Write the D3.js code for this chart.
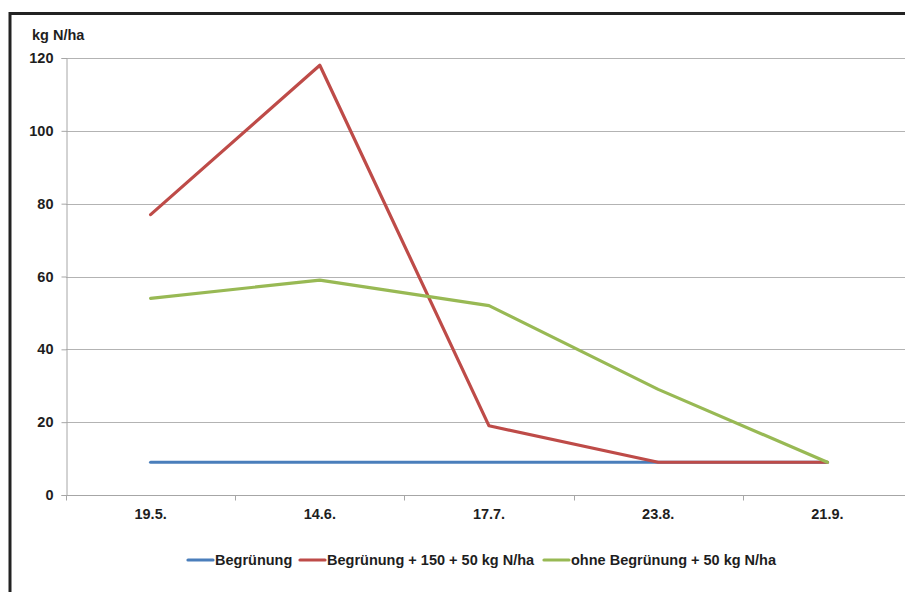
<!DOCTYPE html>
<html>
<head>
<meta charset="utf-8">
<script src="https://cdn.jsdelivr.net/npm/d3@7"></script>
<style>
  html, body { margin: 0; padding: 0; background: #fff; overflow: hidden; }
  svg { display: block; font-family: "Liberation Sans", Arial, sans-serif; font-weight: bold; }
</style>
</head>
<body>
<svg id="chart" width="905" height="592"></svg>
<script>
// Sampling dates
const dates = ["19.5.", "14.6.", "17.7.", "23.8.", "21.9."];
// Nitrogen values (kg N/ha) per treatment
const begruenung = [9, 9, 9, 9, 9];
const begruenung150 = [77, 118, 19, 9, 9];
const ohneBegruenung = [54, 59, 52, 29, 9];
const yTicks = [0, 20, 40, 60, 80, 100, 120];
const seriesNames = ["Begrünung", "Begrünung + 150 + 50 kg N/ha", "ohne Begrünung + 50 kg N/ha"];
const seriesColors = ["#4A7EBB", "#BE4B48", "#98B954"];

const series = [begruenung, begruenung150, ohneBegruenung].map((values, i) => ({
  name: seriesNames[i], color: seriesColors[i], values
}));

const FONT = 14.5;
const TEXT = "#1e1e1e";
const svg = d3.select("#chart");

// Outer frame (top and left edges)
svg.append("line").attr("x1", 10).attr("x2", 905).attr("y1", 13.5).attr("y2", 13.5)
  .attr("stroke", "#222").attr("stroke-width", 3);
svg.append("line").attr("x1", 10).attr("x2", 10).attr("y1", 12).attr("y2", 592)
  .attr("stroke", "#222").attr("stroke-width", 3);

const plot = { left: 66, right: 912, top: 58, bottom: 495 };

const x = d3.scaleBand().domain(dates).range([plot.left, plot.right]).padding(0);
const y = d3.scaleLinear().domain([0, 120]).range([plot.bottom, plot.top]);

// Horizontal gridlines
svg.append("g").selectAll("line").data(yTicks.filter(d => d > 0)).join("line")
  .attr("x1", plot.left).attr("x2", plot.right)
  .attr("y1", d => Math.round(y(d)) + 0.5).attr("y2", d => Math.round(y(d)) + 0.5)
  .attr("stroke", "#b3b3b3").attr("stroke-width", 1);

// Y axis
const yAxis = svg.append("g").attr("transform", `translate(${plot.left + 0.5},0)`)
  .call(d3.axisLeft(y).tickValues(yTicks).tickSize(5).tickPadding(8));
yAxis.select(".domain").attr("stroke", "#a6a6a6");
yAxis.selectAll(".tick line").attr("stroke", "#a6a6a6");
yAxis.selectAll(".tick text").attr("fill", TEXT).attr("font-size", FONT)
  .attr("font-family", "Liberation Sans, Arial, sans-serif").attr("font-weight", "bold");

// X axis with ticks between categories
const xAxisG = svg.append("g").attr("transform", `translate(0,${Math.round(y(0)) + 0.5})`);
xAxisG.append("line").attr("x1", plot.left).attr("x2", plot.right)
  .attr("stroke", "#a6a6a6");
const boundaries = dates.map(d => x(d)).concat([plot.right]);
xAxisG.selectAll("line.tick").data(boundaries).join("line").attr("class", "tick")
  .attr("x1", d => Math.round(d) + 0.5).attr("x2", d => Math.round(d) + 0.5)
  .attr("y1", 0).attr("y2", 5).attr("stroke", "#a6a6a6");
xAxisG.selectAll("text").data(dates).join("text")
  .attr("x", d => x(d) + x.bandwidth() / 2).attr("y", 23)
  .attr("text-anchor", "middle").attr("fill", TEXT).attr("font-size", FONT)
  .text(d => d);

// Axis unit label
svg.append("text").attr("x", 32).attr("y", 40).attr("font-size", FONT).attr("fill", TEXT)
  .text("kg N/ha");

// Series lines
const line = d3.line()
  .x((d, i) => x(dates[i]) + x.bandwidth() / 2)
  .y(d => y(d));

svg.append("g").selectAll("path").data(series).join("path")
  .attr("d", s => line(s.values))
  .attr("fill", "none").attr("stroke", s => s.color)
  .attr("stroke-width", 3.2).attr("stroke-linejoin", "round").attr("stroke-linecap", "round");

// Legend
const legendY = 560;
const legendX = [188, 300, 544];
const legend = svg.append("g").selectAll("g").data(series).join("g")
  .attr("transform", (d, i) => `translate(${legendX[i]},${legendY})`);
legend.append("line").attr("x1", 0).attr("x2", 25).attr("y1", 0).attr("y2", 0)
  .attr("stroke", d => d.color).attr("stroke-width", 3.2).attr("stroke-linecap", "round");
legend.append("text").attr("x", 27).attr("y", 5).attr("font-size", FONT).attr("fill", TEXT)
  .text(d => d.name);
</script>
</body>
</html>
